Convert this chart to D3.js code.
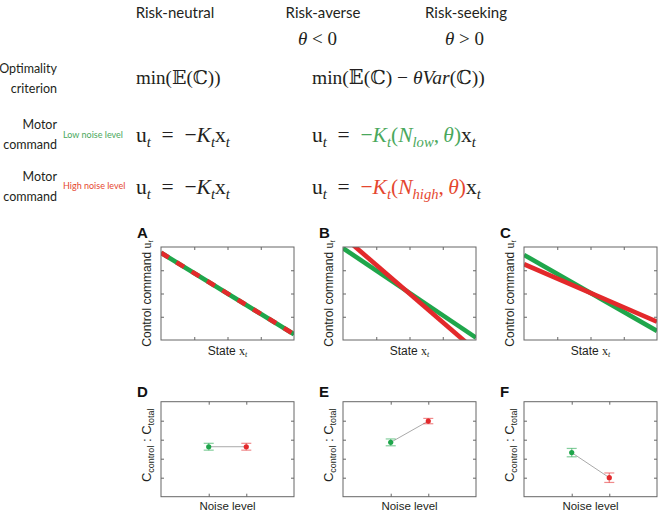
<!DOCTYPE html>
<html><head><meta charset="utf-8">
<script src="https://cdn.jsdelivr.net/npm/d3@7"></script>
<style>
body{margin:0;background:#fff}
svg{display:block}
</style></head><body>
<script>
// ---- data ----
const stateRange = [0, 4]                    // x extent of the control-law lines
const neutralLow = [3.75, 0.25], neutralHigh = [3.75, 0.25]
const averseLow = [3.95, 0.10], averseHigh = [4.46, -0.47]
const seekingLow = [3.66, 0.39], seekingHigh = [3.26, 0.79]

const noiseLevels = ['low', 'high']
const neutralRatio = [2.63, 2.63], neutralErr = [0.18, 0.18]
const averseRatio = [2.86, 3.98], averseErr = [0.18, 0.14]
const seekingRatio = [2.32, 1.00], seekingErr = [0.22, 0.25]

const headers = ['Risk-neutral', 'Risk-averse', 'Risk-seeking']
const panelLetters = ['A', 'B', 'C', 'D', 'E', 'F']

// ---- style ----
const GREEN = '#1fa64b', RED = '#e3292b'
const TXT_GREEN = '#4aa85c', TXT_RED = '#e5472f'
const INK = '#231f20'
const SANS = 'Lato, "Open Sans", sans-serif'
const MATH = '"Liberation Serif", "DejaVu Serif", serif'
const ARIAL = '"Liberation Sans", Arial, sans-serif'
const EQSP = '\u2002=\u2002'   // TeX puts thick spaces around "="

const svg = d3.select('body').append('svg').attr('width', 660).attr('height', 514)
svg.append('rect').attr('width', 660).attr('height', 514).attr('fill', '#fff')

// math text built from tspans; parts: {t, i:italic, sub:subscript, c:color}
function mathText(g, x, y, parts, size){
  const t = g.append('text').attr('x', x).attr('y', y)
    .attr('font-family', MATH).attr('font-size', size).attr('fill', INK)
  let off = 0
  parts.forEach(p => {
    const want = p.sub ? size*0.25 : 0
    const ts = t.append('tspan').text(p.t)
    if(want !== off) ts.attr('dy', want - off)
    off = want
    if(p.i) ts.attr('font-style', 'italic')
    if(p.sub) ts.attr('font-size', size*0.68)
    if(p.c) ts.attr('fill', p.c)
  })
  return t
}

// ---- header ----
const headX = [175, 323, 466]
svg.selectAll('text.head').data(headers).enter().append('text')
  .attr('class', 'head').attr('x', (d,i) => headX[i]).attr('y', 18)
  .attr('text-anchor', 'middle').attr('font-family', SANS).attr('font-size', 15)
  .attr('fill', INK).text(d => d)
mathText(svg, 298, 45, [{t:'θ', i:true}, {t:' < 0'}], 19)
mathText(svg, 445, 45, [{t:'θ', i:true}, {t:' > 0'}], 19)

// row labels
function rowLabel(lines, y0){
  lines.forEach((s, k) => svg.append('text').attr('x', 57).attr('y', y0 + k*20)
    .attr('text-anchor', 'end').attr('font-family', SANS).attr('font-size', 12.5)
    .attr('fill', INK).text(s))
}
rowLabel(['Optimality', 'criterion'], 73)
rowLabel(['Motor', 'command'], 129)
rowLabel(['Motor', 'command'], 181)
svg.append('text').attr('x', 63).attr('y', 138).attr('font-family', SANS).attr('font-size', 9)
  .attr('fill', TXT_GREEN).text('Low noise level')
svg.append('text').attr('x', 63).attr('y', 189).attr('font-family', SANS).attr('font-size', 9)
  .attr('fill', TXT_RED).text('High noise level')

// equations
const EQ = 21.5
mathText(svg, 136, 84, [{t:'min('}, {t:'𝔼'}, {t:'('}, {t:'ℂ'}, {t:'))'}], 19)
mathText(svg, 312, 84, [{t:'min('}, {t:'𝔼'}, {t:'('}, {t:'ℂ'}, {t:') − '}, {t:'θVar', i:true}, {t:'('}, {t:'ℂ'}, {t:'))'}], 19.5)
const neutralLaw = [{t:'u'}, {t:'t', i:true, sub:true}, {t:EQSP + '−'}, {t:'K', i:true}, {t:'t', i:true, sub:true}, {t:'x'}, {t:'t', i:true, sub:true}]
mathText(svg, 136, 142, neutralLaw, EQ)
mathText(svg, 136, 194, neutralLaw, EQ)
function riskLaw(level, col){
  return [{t:'u'}, {t:'t', i:true, sub:true}, {t:EQSP}, {t:'−', c:col}, {t:'K', i:true, c:col}, {t:'t', i:true, sub:true, c:col},
    {t:'(', c:col}, {t:'N', i:true, c:col}, {t:level, i:true, sub:true, c:col}, {t:',\u2009', c:col}, {t:'θ', i:true, c:col}, {t:')', c:col},
    {t:'x'}, {t:'t', i:true, sub:true}]
}
mathText(svg, 312, 142, riskLaw('low', TXT_GREEN), EQ)
mathText(svg, 312, 194, riskLaw('high', TXT_RED), EQ)

// ---- panels ----
const lefts = [161, 343, 524]
const PW = 133

function frame(g, x, y, xTicks, yTicks, h){
  g.append('g').attr('transform', `translate(0,${h})`)
    .call(d3.axisBottom(x).tickValues(xTicks).tickSize(-3).tickFormat(''))
  g.append('g').call(d3.axisTop(x).tickValues(xTicks).tickSize(-3).tickFormat(''))
  g.append('g').call(d3.axisLeft(y).tickValues(yTicks).tickSize(-3).tickFormat(''))
  g.append('g').attr('transform', `translate(${PW},0)`)
    .call(d3.axisRight(y).tickValues(yTicks).tickSize(-3).tickFormat(''))
  g.selectAll('.domain').remove()
  g.selectAll('.tick line').attr('stroke', '#666')
  g.append('rect').attr('width', PW).attr('height', h).attr('fill', 'none').attr('stroke', '#666').attr('stroke-width', 1)
}

// top row: control command vs state
const TOP = 247, TH = 93
const ctrlSets = [[neutralLow, neutralHigh], [averseLow, averseHigh], [seekingLow, seekingHigh]]
ctrlSets.forEach((set, i) => {
  const g = svg.append('g').attr('transform', `translate(${lefts[i]},${TOP})`)
  const x = d3.scaleLinear().domain(stateRange).range([0, PW])
  const y = d3.scaleLinear().domain([0, 4]).range([TH, 0])
  const cid = 'clip' + i
  g.append('clipPath').attr('id', cid).append('rect').attr('width', PW).attr('height', TH)
  const line = d3.line().x(d => x(d[0])).y(d => y(d[1]))
  const lg = g.append('g').attr('clip-path', `url(#${cid})`)
  lg.append('path').attr('d', line(d3.zip(stateRange, set[0])))
    .attr('stroke', GREEN).attr('stroke-width', 4.6).attr('fill', 'none')
  const red = lg.append('path').attr('d', line(d3.zip(stateRange, set[1])))
    .attr('stroke', RED).attr('stroke-width', 4.6).attr('fill', 'none')
  if(i === 0) red.attr('stroke-dasharray', '9,9')
  frame(g, x, y, [1, 2, 3], [1, 2, 3], TH)
  const yl = g.append('text').attr('transform', `translate(-10,${TH/2}) rotate(-90)`)
    .attr('text-anchor', 'middle').attr('font-family', ARIAL).attr('font-size', 12).attr('fill', INK)
  yl.append('tspan').text('Control command ')
  yl.append('tspan').attr('font-family', MATH).text('u')
  yl.append('tspan').attr('font-family', MATH).attr('font-style', 'italic').attr('font-size', 8).attr('dy', 2).text('t')
  const xl = g.append('text').attr('x', PW/2).attr('y', TH + 14.5)
    .attr('text-anchor', 'middle').attr('font-family', ARIAL).attr('font-size', 12).attr('fill', INK)
  xl.append('tspan').text('State ')
  xl.append('tspan').attr('font-family', MATH).text('x')
  xl.append('tspan').attr('font-family', MATH).attr('font-style', 'italic').attr('font-size', 8).attr('dy', 2).text('t')
  g.append('text').attr('x', -24).attr('y', -9).attr('font-family', ARIAL).attr('font-weight', 'bold')
    .attr('font-size', 15).attr('fill', '#111').text(panelLetters[i])
})

// bottom row: cost ratio vs noise level
const BTOP = 401.7, BH = 95
const ratioSets = [[neutralRatio, neutralErr], [averseRatio, averseErr], [seekingRatio, seekingErr]]
const cols = [GREEN, RED]
ratioSets.forEach((set, i) => {
  const g = svg.append('g').attr('transform', `translate(${lefts[i]},${BTOP})`)
  const x = d3.scalePoint().domain(noiseLevels).range([0, PW]).padding(1.27)
  const y = d3.scaleLinear().domain([0, 5]).range([BH, 0])
  frame(g, x, y, noiseLevels, [1, 2, 3, 4], BH)
  const pts = noiseLevels.map((n, k) => ({n, v: set[0][k], e: set[1][k], c: cols[k]}))
  g.append('path').attr('d', d3.line().x(d => x(d.n)).y(d => y(d.v))(pts))
    .attr('stroke', '#aaa').attr('stroke-width', 1).attr('fill', 'none')
  const eb = g.selectAll('g.err').data(pts).enter().append('g').attr('class', 'err')
  eb.append('line').attr('x1', d => x(d.n)).attr('x2', d => x(d.n))
    .attr('y1', d => y(d.v - d.e)).attr('y2', d => y(d.v + d.e))
    .attr('stroke', d => d.c).attr('stroke-opacity', 0.55).attr('stroke-width', 1.2)
  ;[-1, 1].forEach(s => eb.append('line').attr('x1', d => x(d.n) - 5).attr('x2', d => x(d.n) + 5)
    .attr('y1', d => y(d.v + s*d.e)).attr('y2', d => y(d.v + s*d.e))
    .attr('stroke', d => d.c).attr('stroke-opacity', 0.55).attr('stroke-width', 1.2))
  eb.append('circle').attr('cx', d => x(d.n)).attr('cy', d => y(d.v)).attr('r', 2.6).attr('fill', d => d.c)
  const yl = g.append('text').attr('transform', `translate(-10,${BH/2 - 4}) rotate(-90)`)
    .attr('text-anchor', 'middle').attr('font-family', ARIAL).attr('font-size', 13).attr('fill', INK)
  yl.append('tspan').text('C')
  yl.append('tspan').attr('font-size', 9).attr('dy', 3).text('control')
  yl.append('tspan').attr('dy', -3).text(' : C')
  yl.append('tspan').attr('font-size', 9).attr('dy', 3).text('total')
  g.append('text').attr('x', PW/2).attr('y', BH + 13.3).attr('text-anchor', 'middle')
    .attr('font-family', ARIAL).attr('font-size', 11.5).attr('fill', INK).text('Noise level')
  g.append('text').attr('x', -24).attr('y', -5).attr('font-family', ARIAL).attr('font-weight', 'bold')
    .attr('font-size', 15).attr('fill', '#111').text(panelLetters[i + 3])
})
</script>
</body></html>
